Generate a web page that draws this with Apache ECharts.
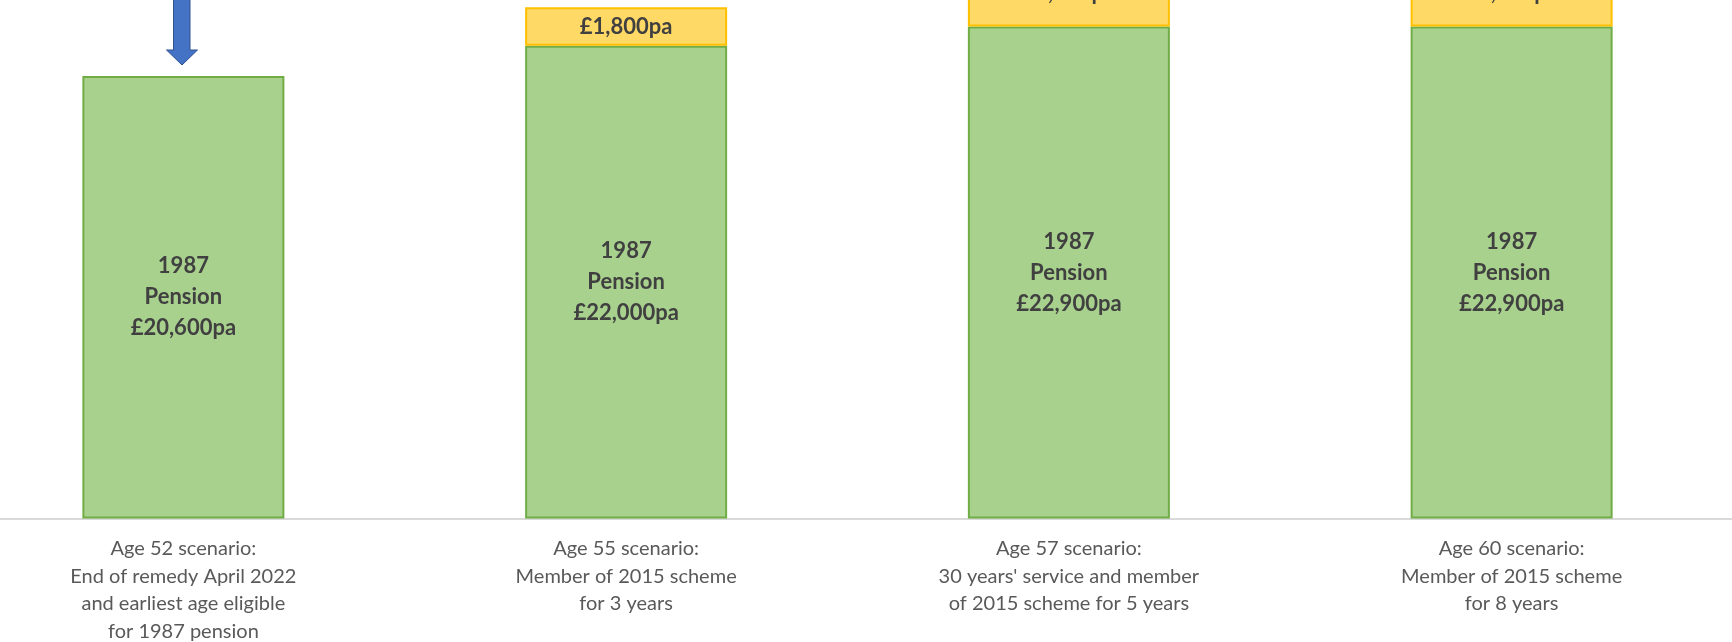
<!DOCTYPE html>
<html>
<head>
<meta charset="utf-8">
<script src="https://cdn.jsdelivr.net/npm/echarts@6/dist/echarts.min.js"></script>
<style>
  html, body { margin: 0; padding: 0; background: #fff; }
  #main { width: 1732px; height: 642px; }
</style>
</head>
<body>
<div id="main"></div>
<script>
// scenario labels along the bottom
const scenarios = [
    'Age 52 scenario:\nEnd of remedy April 2022\nand earliest age eligible\nfor 1987 pension',
    'Age 55 scenario:\nMember of 2015 scheme\nfor 3 years',
    'Age 57 scenario:\n30 years\' service and member\nof 2015 scheme for 5 years',
    'Age 60 scenario:\nMember of 2015 scheme\nfor 8 years'
];
// pounds per year
const pension1987 = [20600, 22000, 22900, 22900];
const pension2015 = [null, 1800, 3100, 3100];

const fmt = (v) => '£' + v.toLocaleString('en-GB') + 'pa';

var chartDom = document.getElementById('main');
var myChart = echarts.init(chartDom);
var option;

option = {
    animation: false,
    textStyle: { fontFamily: 'Lato' },
    grid: {
        left: -38,
        right: -1,
        top: -126,
        bottom: 123.5,
        containLabel: false,
        outerBoundsMode: 'none'
    },
    xAxis: {
        type: 'category',
        data: scenarios,
        axisTick: { show: false },
        axisLine: {
            show: true,
            lineStyle: { color: '#D9D9D9', width: 2 }
        },
        axisLabel: {
            interval: 0,
            margin: 16,
            fontSize: 20,
            lineHeight: 27.7,
            color: '#595959',
            fontFamily: 'Lato'
        }
    },
    yAxis: {
        type: 'value',
        min: 0,
        max: 30000,
        show: false,
        splitLine: { show: false }
    },
    series: [
        {
            name: '1987 pension',
            type: 'bar',
            stack: 'total',
            barWidth: 202,
            data: pension1987,
            itemStyle: {
                color: '#A9D18E',
                borderColor: '#70AD47',
                borderWidth: 2
            },
            label: {
                show: true,
                position: 'inside',
                formatter: (p) => '1987\nPension\n' + fmt(p.value),
                fontSize: 22,
                lineHeight: 31,
                fontWeight: 'bold',
                color: '#404040',
                fontFamily: 'Lato'
            }
        },
        {
            name: '2015 pension',
            type: 'bar',
            stack: 'total',
            barWidth: 202,
            data: pension2015,
            itemStyle: {
                color: '#FFD966',
                borderColor: '#FFC000',
                borderWidth: 2
            },
            label: {
                show: true,
                position: 'inside',
                formatter: (p) => p.value ? fmt(p.value) : '',
                fontSize: 22,
                fontWeight: 'bold',
                color: '#404040',
                fontFamily: 'Lato'
            }
        }
    ],
    graphic: [
        {
            // down arrow pointing at the first bar
            type: 'polygon',
            shape: {
                points: [[173.5, -5], [190, -5], [190, 50], [197.5, 50], [182, 65], [166.5, 50], [173.5, 50]]
            },
            style: {
                fill: '#4472C4',
                stroke: '#2F528F',
                lineWidth: 1
            }
        }
    ]
};

option && myChart.setOption(option);
</script>
</body>
</html>
